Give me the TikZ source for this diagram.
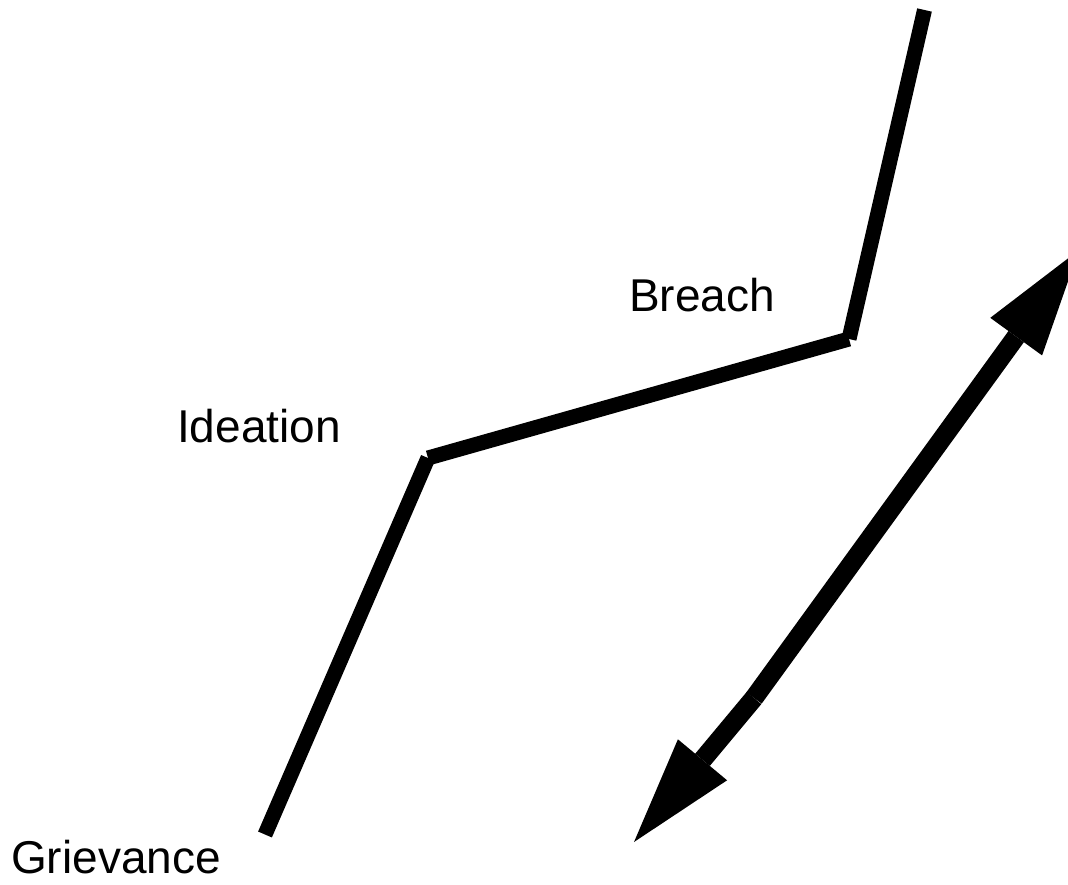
\documentclass[tikz,border=0pt]{standalone}
\usepackage{fontspec}
\setmainfont{Liberation Sans}
\usetikzlibrary{arrows.meta}
\begin{document}
\begin{tikzpicture}[x=1pt,y=-1pt,
  stage/.style={line width=15pt},
  bigarrow/.style={line width=19pt,
    -{Triangle[length=107pt,width=64pt,line width=0pt]}},
  label/.style={anchor=base,inner sep=0pt,
    font=\fontsize{46}{55}\selectfont}]
  \useasboundingbox (0,0) rectangle (1068,885);
  \clip (0,0) rectangle (1068,885);

  % turning points of the pathway
  \coordinate (g) at (265,834.5);
  \coordinate (i) at (428,458);
  \coordinate (b) at (849,339);
  \coordinate (t) at (924.5,10);

  % stage labels
  \node[label] (griev) at (116,873) {Grievance};
  \node[label] (idea) at (259,442) {Ideation};
  \node[label] (breach) at (702,312) {Breach};

  % pathway segments, each drawn on its own
  \draw[stage] (g) -- (i);
  \draw[stage] (i) -- (b);
  \draw[stage] (b) -- (t);

  % two-way arrow
  \coordinate (m) at (754,698);
  \coordinate (lo) at (634,842);
  \coordinate (hi) at (1079,250);
  \draw[bigarrow] (m) -- (lo);
  \draw[bigarrow] (m) -- (hi);
\end{tikzpicture}
\end{document}
